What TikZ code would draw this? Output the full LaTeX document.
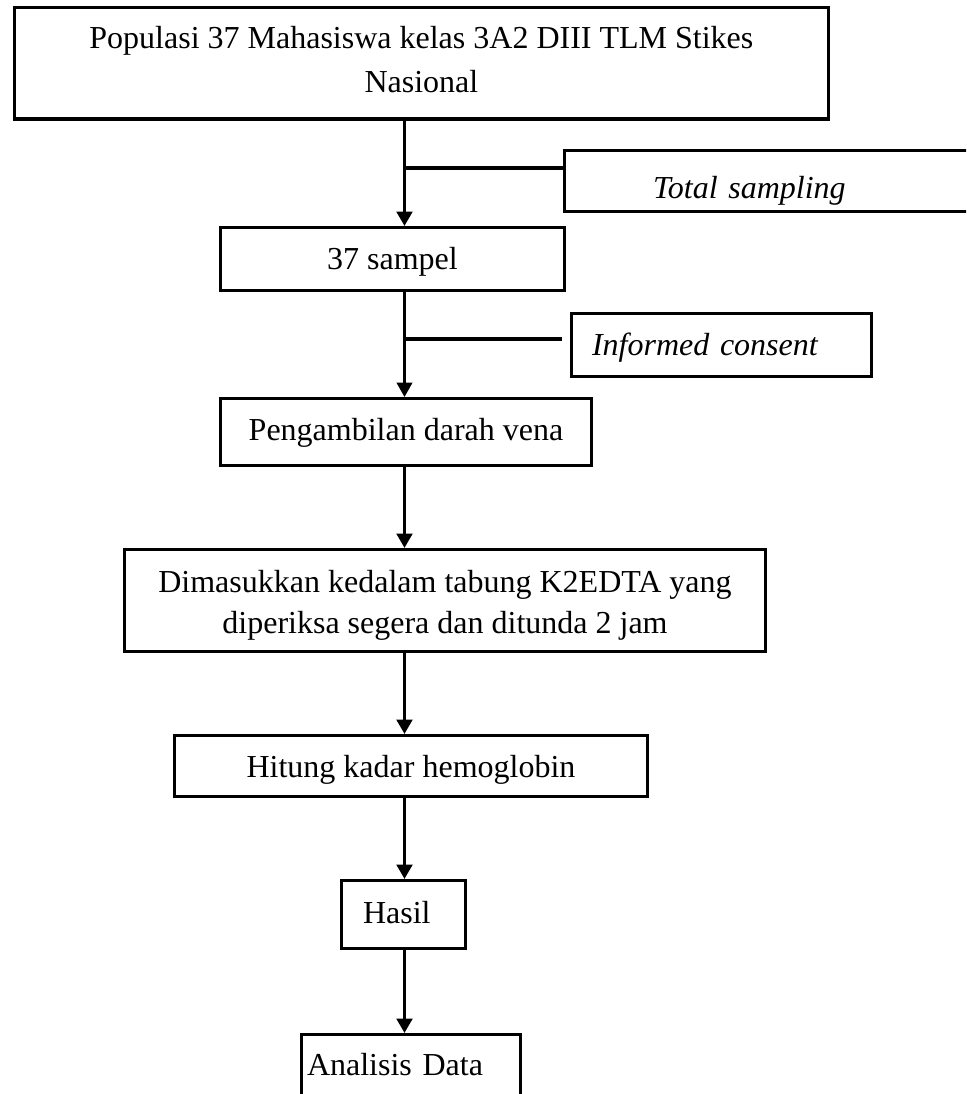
\documentclass[tikz,border=0pt]{standalone}
\usepackage{fontspec}
\setmainfont{Liberation Serif}
\usetikzlibrary{arrows.meta}
\begin{document}
\begin{tikzpicture}[x=0.5pt,y=-0.5pt,
  box/.style={draw, line width=1.65pt, inner sep=0pt, font=\fontsize{16}{20.5}\selectfont, text depth=0pt},
  arr/.style={line width=1.65pt, -{Triangle[width=7.8pt,length=7.2pt]}},
  thinarr/.style={line width=1.15pt, -{Triangle[width=7.8pt,length=7.2pt]}},
  branch/.style={line width=1.65pt}]
\useasboundingbox (0,0) rectangle (966,1094);
\clip (0,0) rectangle (966,1094);
\coordinate (ax) at (404.5,0);

\node[box, minimum width=407pt, minimum height=55.65pt, align=center,
      font=\fontsize{16}{22}\selectfont, text height=28.65pt] (top) at (421.4,63.35)
  {Populasi 37 Mahasiswa kelas 3A2 DIII TLM Stikes\\Nasional};

\node[box, anchor=west, inner xsep=44.2pt, text width=130pt, align=left,
      minimum height=30.35pt, text height=17pt, font=\fontsize{16}{20.5}\selectfont\itshape] (total) at (563,181)
  {Total sampling};

\node[box, minimum width=171.9pt, minimum height=31.4pt, text height=10pt] (sampel) at (392.5,259) {37 sampel};

\node[box, anchor=west, inner xsep=10.2pt, text width=129.5pt, align=left,
      minimum height=31.4pt, text height=10pt, font=\fontsize{16}{20.5}\selectfont\itshape] (consent) at (570,345)
  {Informed consent};

\node[box, minimum width=185.4pt, minimum height=33.4pt, text height=8pt] (peng) at (406,432) {Pengambilan darah vena};

\node[box, minimum width=320.4pt, minimum height=50.9pt, align=center, text height=32.5pt] (dim) at (445,600.5)
  {Dimasukkan kedalam tabung K2EDTA yang\\diperiksa segera dan ditunda 2 jam};

\node[box, minimum width=236.4pt, minimum height=30.4pt, text height=11pt] (hitung) at (411,766) {Hitung kadar hemoglobin};

\node[box, inner xsep=10.7pt, text width=40.5pt, align=left, minimum height=33.9pt, text height=8.5pt] (hasil) at (403.5,914.5) {Hasil};

\node[box, inner xsep=2.7pt, text width=104pt, align=left, minimum height=42.7pt, text height=0pt, text depth=2.3pt] (analisis) at (411,1077.3) {Analisis Data};

\coordinate (tj) at ([yshift=6.5pt]total.west);
\coordinate (cj) at ([xshift=-4pt,yshift=3pt]consent.west);

\draw[arr] (top.south -| ax) -- (sampel.north -| ax);
\draw[branch] (tj) -- (tj -| ax);
\draw[thinarr] (sampel.south -| ax) -- (peng.north -| ax);
\draw[branch] (cj) -- (cj -| ax);
\draw[arr] (peng.south -| ax) -- (dim.north -| ax);
\draw[arr] (dim.south -| ax) -- (hitung.north -| ax);
\draw[arr] (hitung.south -| ax) -- (hasil.north -| ax);
\draw[arr] (hasil.south -| ax) -- (analisis.north -| ax);
\end{tikzpicture}
\end{document}
